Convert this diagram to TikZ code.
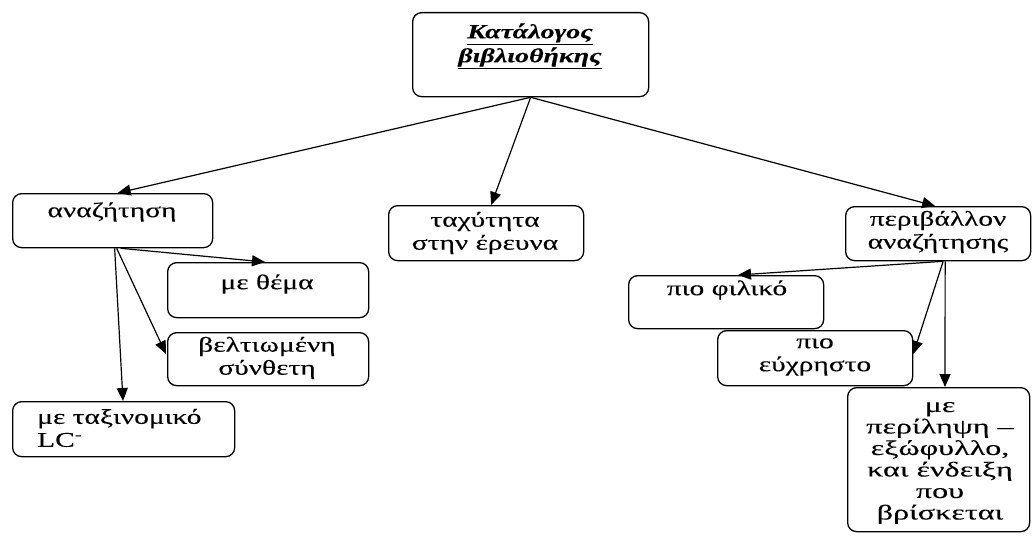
\documentclass[tikz,border=0pt]{standalone}
\usepackage{fontspec}
\setmainfont{Liberation Serif}[FakeStretch=1.4,FakeBold=0.2]
\newfontfamily\widefont{Liberation Serif}[FakeStretch=1.53,FakeBold=0.2]
\usetikzlibrary{arrows.meta,calc}
\tikzset{
  box/.style={draw, line width=1.3pt, rounded corners=9pt, anchor=north west, inner sep=0pt},
  txt/.style={inner sep=0pt, align=center, font=\fontsize{21}{23}\selectfont},
  arr/.style={line width=1.2pt, -{Triangle[length=13pt,width=11pt]}}
}
\begin{document}
\begin{tikzpicture}[x=1pt,y=-1pt]
\useasboundingbox (0,0) rectangle (1032,535);
% boxes
\node[box, minimum width=236pt, minimum height=84pt] (title) at (412,12) {};
\node[box, minimum width=200pt, minimum height=54pt] (search) at (12,193) {};
\node[box, minimum width=201pt, minimum height=55pt] (theme) at (167,262) {};
\node[box, minimum width=201pt, minimum height=53pt] (comp) at (167,332) {};
\node[box, minimum width=222pt, minimum height=55pt] (lc) at (12,401) {};
\node[box, minimum width=195pt, minimum height=55pt] (speed) at (388,205) {};
\node[box, minimum width=185pt, minimum height=54pt] (env) at (845,206) {};
\node[box, minimum width=195pt, minimum height=53pt] (friendly) at (628,275) {};
\node[box, minimum width=195pt, minimum height=55pt] (usable) at (717,330) {};
\node[box, minimum width=182pt, minimum height=144pt] (summary) at (847,387) {};
% texts
\node[txt, font=\fontsize{20}{24}\selectfont\bfseries\itshape] (title-t) at (530,46) {\underline{Κατάλογος}\\\underline{βιβλιοθήκης}};
\node[txt] (search-t) at (112,212) {αναζήτηση};
\node[txt] (theme-t) at (267,284) {με θέμα};
\node[txt] (comp-t) at (267,358) {βελτιωμένη\\σύνθετη};
\node[txt, anchor=west, align=left] (lc-t) at (37,428) {με ταξινομικό\\LC\textsuperscript{-}};
\node[txt] (speed-t) at (485,233) {ταχύτητα\\στην έρευνα};
\node[txt] (env-t) at (938,232) {περιβάλλον\\αναζήτησης};
\node[txt] (friendly-t) at (727,290) {πιο φιλικό};
\node[txt] (usable-t) at (815,357) {πιο\\εύχρηστο};
\node[txt, font=\fontsize{21}{21.5}\widefont] (summary-t) at (940,463) {με\\περίληψη –\\εξώφυλλο,\\και ένδειξη\\που\\βρίσκεται};
% arrows
\draw[arr] (title.south) -- ($(search.north)+(5,0)$);
\draw[arr] (title.south) -- ($(speed.north)+(5,0)$);
\draw[arr] (title.south) -- ($(env.north)+(-3,0)$);
\draw[arr] ($(search.south)+(2,0)$) -- ($(lc.north west)+(111,0)$);
\draw[arr] ($(search.south)+(4,0)$) -- ($(comp.north west)+(-1,22)$);
\draw[arr] ($(search.south)+(8,0)$) -- ($(theme.north west)+(98,0)$);
\draw[arr] ($(env.south)+(5,0)$) -- ($(friendly.north west)+(110,0)$);
\draw[arr] ($(env.south)+(5,0)$) -- ($(usable.north east)+(0,24)$);
\draw[arr] ($(env.south)+(7,0)$) -- ($(summary.north west)+(98,0)$);
\end{tikzpicture}
\end{document}
